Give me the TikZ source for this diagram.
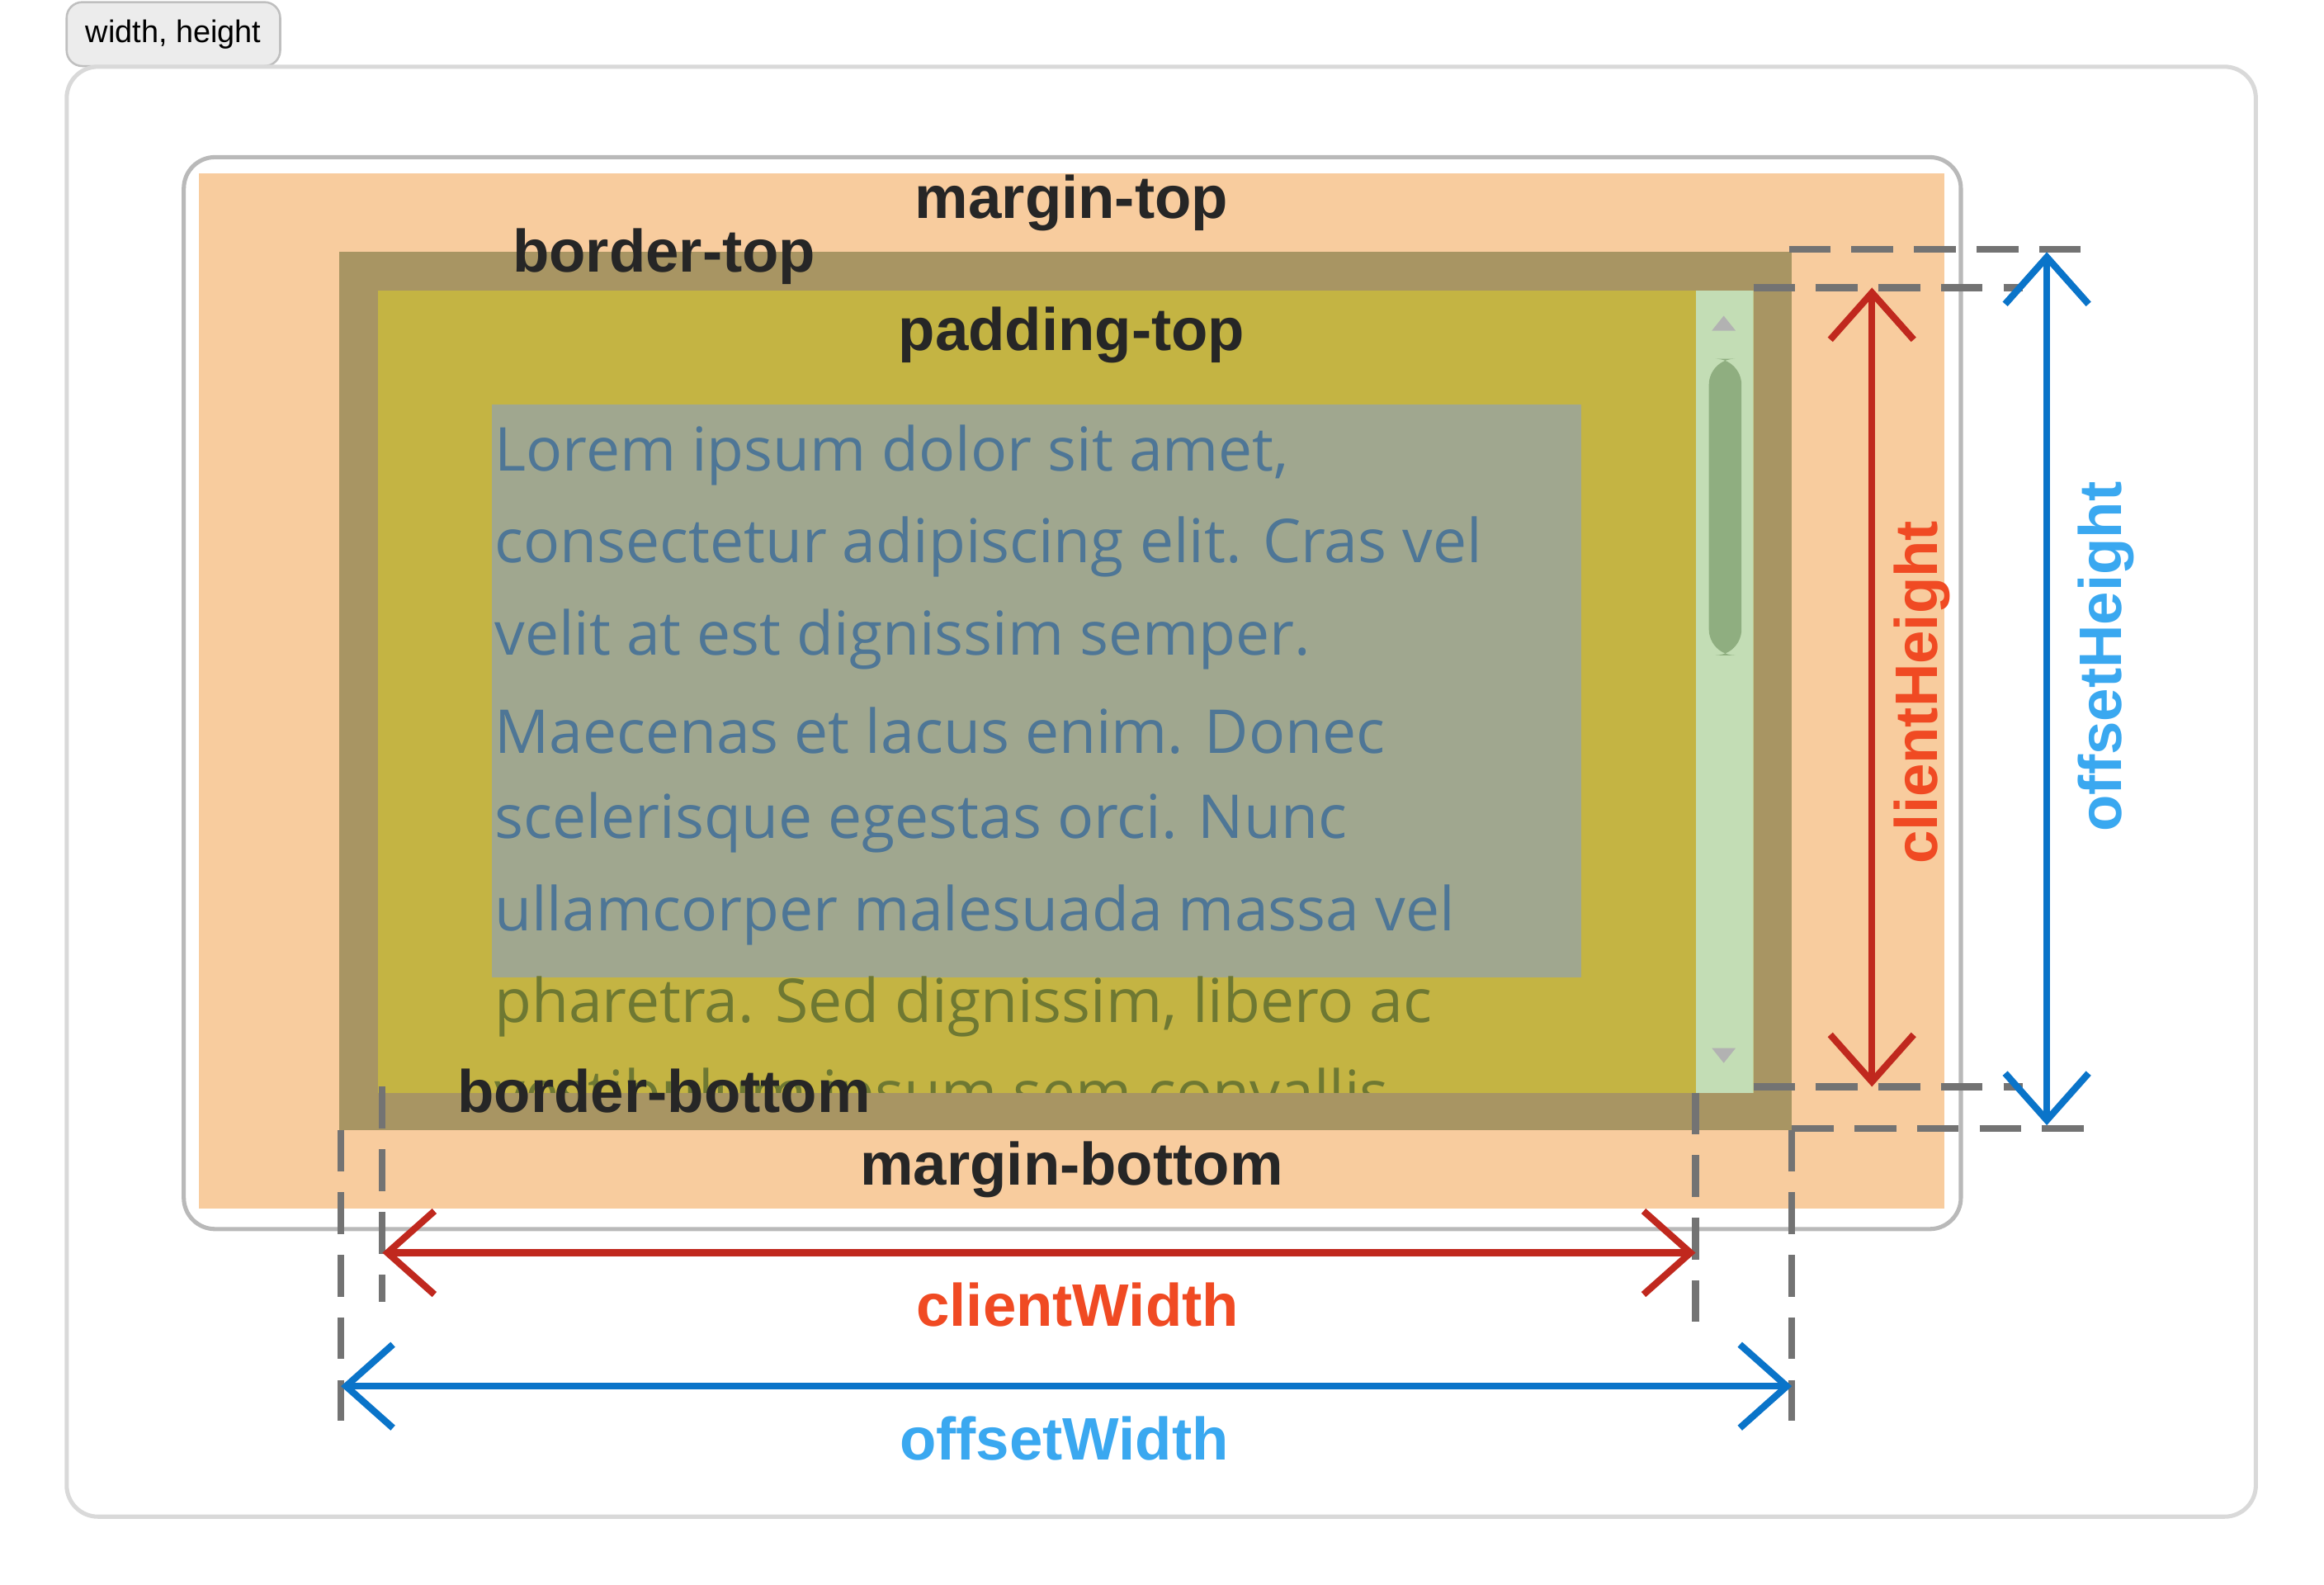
\documentclass[tikz,border=0pt]{standalone}
\usepackage{fontspec}
\setmainfont{Open Sans}
\newfontfamily\lbl{Liberation Sans}
\usetikzlibrary{arrows.meta}
\definecolor{cmargin}{RGB}{248,204,158}
\definecolor{cborder}{RGB}{168,149,99}
\definecolor{cpad}{RGB}{196,180,67}
\definecolor{ccontent}{RGB}{160,167,143}
\definecolor{ctext}{RGB}{78,118,150}
\definecolor{ctext2}{RGB}{110,120,50}
\definecolor{cscroll}{RGB}{195,221,181}
\definecolor{cthumb}{RGB}{143,174,128}
\definecolor{cred}{RGB}{192,40,30}
\definecolor{cblue}{RGB}{10,116,201}
\definecolor{lred}{RGB}{240,74,35}
\definecolor{lblue}{RGB}{58,168,240}
\begin{document}
\begin{tikzpicture}[x=0.01cm,y=-0.01cm,
  lab/.style={font=\fontsize{11.5}{12}\selectfont\bfseries\lbl, text=black!85, inner sep=0},
  dashln/.style={gray!90!black, line width=1.3pt, dash pattern=on 8pt off 4pt},
  arr/.style={line width=1.3pt, {Straight Barb[length=9pt,width=16pt]}-{Straight Barb[length=9pt,width=16pt]}},
  lorem/.style={font=\fontsize{11.6}{12}\selectfont, anchor=west, inner sep=0}]
\useasboundingbox (0,0) rectangle (1568,1069);
\fill[white] (0,0) rectangle (1568,1069);
\node[draw=gray!50, fill=gray!15, rounded corners=3pt, minimum width=1.44cm, minimum height=0.29cm, font=\fontsize{6}{7}\selectfont\lbl] (tab) at (117,23) {width, height};
\draw[gray!30, line width=0.8pt, rounded corners=6pt] (45,45) rectangle (1522,1023);
\draw[gray!55, line width=0.8pt, rounded corners=6pt, fill=white] (124,106) rectangle (1323,829);
\fill[cmargin] (134,117) rectangle (1312,815);
\fill[cborder] (229,170) rectangle (1209,762);
\begin{scope}
\clip (255,196) rectangle (1183,737);
\fill[cpad] (255,196) rectangle (1183,737);
\fill[ccontent] (332,273) rectangle (1067,659);
\foreach \t [count=\i] in {{Lorem ipsum dolor sit amet,},consectetur adipiscing elit. Cras vel,velit at est dignissim semper.,Maecenas et lacus enim. Donec,scelerisque egestas orci. Nunc,ullamcorper malesuada massa vel}
  \node[lorem, text=ctext] at (333,245+62*\i) {\t};
\node[lorem, text=ctext2] at (333,679) {pharetra. Sed dignissim, libero ac};
\node[lorem, text=ctext2] at (333,741) {vestibulum ipsum sem convallis};
\fill[cscroll] (1144,196) rectangle (1183,737);
\fill[cthumb, rounded corners=5pt] (1153,242) rectangle (1175,442);
\fill[gray!60] (1155,223) -- (1171,223) -- (1163,213) -- cycle;
\fill[gray!60] (1155,707) -- (1171,707) -- (1163,717) -- cycle;
\end{scope}
\node[lab] (mt) at (723,137) {margin-top};
\node[lab] (bt) at (448,173) {border-top};
\node[lab] (pt) at (723,226) {padding-top};
\node[lab] (bb) at (448,736) {border-bottom};
\node[lab] (mb) at (723,789) {margin-bottom};
\coordinate (h1a) at (1207,168); \coordinate (h1b) at (1407,168);
\coordinate (h2a) at (1183,194); \coordinate (h2b) at (1365,194);
\coordinate (h3a) at (1183,733); \coordinate (h3b) at (1365,733);
\coordinate (h4a) at (1209,761); \coordinate (h4b) at (1407,761);
\coordinate (v1a) at (230,762); \coordinate (v1b) at (230,958);
\coordinate (v2a) at (258,733); \coordinate (v2b) at (258,878);
\coordinate (v3a) at (1144,737); \coordinate (v3b) at (1144,897);
\coordinate (v4a) at (1209,762); \coordinate (v4b) at (1209,958);
\foreach \n in {h1,h2,h3,h4,v1,v2,v3,v4} \draw[dashln] (\n a) -- (\n b);
\coordinate (ch1) at (1263,194); \coordinate (ch2) at (1263,733);
\coordinate (oh1) at (1381,170); \coordinate (oh2) at (1381,759);
\coordinate (cw1) at (258,845); \coordinate (cw2) at (1144,845);
\coordinate (ow1) at (230,935); \coordinate (ow2) at (1209,935);
\draw[arr, cred] (ch1) -- (ch2);
\draw[arr, cred] (cw1) -- (cw2);
\draw[arr, cblue] (oh1) -- (oh2);
\draw[arr, cblue] (ow1) -- (ow2);
\node[lab, text=lred, rotate=90] (chl) at (1297,467) {clientHeight};
\node[lab, text=lblue, rotate=90] (ohl) at (1421,443) {offsetHeight};
\node[lab, text=lred] (cwl) at (727,880) {clientWidth};
\node[lab, text=lblue] (owl) at (718,970) {offsetWidth};
\end{tikzpicture}
\end{document}
